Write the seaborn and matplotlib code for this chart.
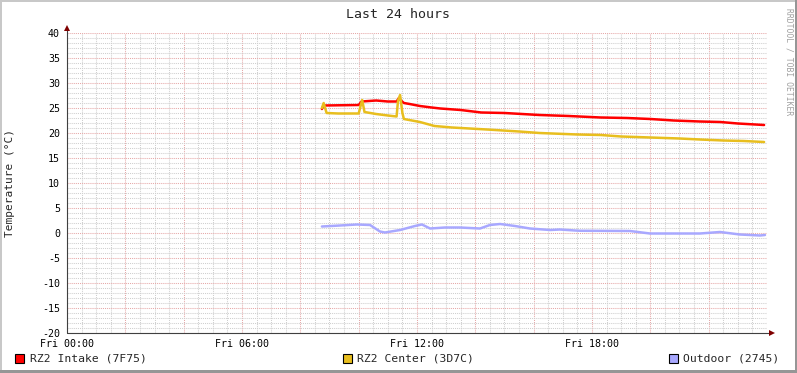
import numpy as np
import pandas as pd
import matplotlib
matplotlib.use("Agg")
import matplotlib.pyplot as plt
import seaborn as sns
from matplotlib.ticker import MultipleLocator, FuncFormatter
from matplotlib.patches import Rectangle
from matplotlib.lines import Line2D

# ---- data (hours since Fri 00:00, temperature in °C) ----
intake_hours = [8.74, 8.8, 10.0, 10.1, 10.6, 11.0, 11.3, 11.38, 11.45, 11.55, 11.75, 12.1,
                12.5, 12.8, 13.5, 14.2, 15.0, 16.2, 17.2, 18.3, 19.2, 20.0, 20.8, 21.7,
                22.4, 23.0, 23.9]
intake_temp = [24.8, 25.5, 25.6, 26.3, 26.5, 26.3, 26.3, 27.0, 26.5, 26.0, 25.8, 25.4,
               25.1, 24.9, 24.6, 24.1, 24.0, 23.6, 23.4, 23.1, 23.0, 22.8, 22.5, 22.3,
               22.2, 21.9, 21.6]

center_hours = [8.74, 8.8, 8.9, 9.3, 10.0, 10.07, 10.12, 10.2, 10.6, 11.0, 11.3, 11.35,
                11.42, 11.5, 11.55, 12.1, 12.6, 13.2, 13.8, 14.4, 15.5, 16.2, 17.5, 18.3,
                19.0, 20.0, 21.0, 21.7, 22.5, 23.2, 23.9]
center_temp = [25.0, 26.0, 24.0, 23.9, 23.9, 25.5, 26.6, 24.2, 23.8, 23.5, 23.3, 26.5,
               27.6, 24.0, 22.8, 22.2, 21.4, 21.1, 20.9, 20.7, 20.3, 20.0, 19.7, 19.6,
               19.3, 19.1, 18.9, 18.7, 18.5, 18.4, 18.2]

outdoor_hours = [8.74, 9.36, 9.94, 10.39, 10.73, 10.9, 11.42, 11.93, 12.17, 12.45, 12.96,
                 13.47, 14.16, 14.5, 14.85, 15.36, 15.87, 16.56, 16.9, 17.42, 17.59, 19.3,
                 19.99, 21.7, 22.39, 23.07, 23.76, 23.93]
outdoor_temp = [1.3, 1.5, 1.7, 1.6, 0.3, 0.1, 0.6, 1.4, 1.7, 0.9, 1.1, 1.1, 0.9, 1.6, 1.8,
                1.4, 0.9, 0.6, 0.7, 0.5, 0.45, 0.4, -0.1, -0.1, 0.2, -0.3, -0.5, -0.4]

series_names = ["RZ2 Intake (7F75)", "RZ2 Center (3D7C)", "Outdoor (2745)"]
series_colors = ["#FF0000", "#E8BE1E", "#A8A8FF"]
x_tick_labels = ["Fri 00:00", "Fri 06:00", "Fri 12:00", "Fri 18:00"]
title = "Last 24 hours"
ylabel = "Temperature (°C)"

df = pd.concat([
    pd.DataFrame({"hour": intake_hours, "temp": intake_temp, "series": series_names[0]}),
    pd.DataFrame({"hour": center_hours, "temp": center_temp, "series": series_names[1]}),
    pd.DataFrame({"hour": outdoor_hours, "temp": outdoor_temp, "series": series_names[2]}),
])

sns.set_theme(style="white")
plt.rcParams["font.family"] = ["DejaVu Sans Mono"]

W, H = 797, 373
fig = plt.figure(figsize=(W / 100, H / 100), dpi=100)
fig.patch.set_facecolor("white")

def px_rect(x0, y0, w, h, color):
    fig.add_artist(Rectangle((x0 / W, 1 - (y0 + h) / H), w / W, h / H,
                             transform=fig.transFigure, color=color, lw=0, zorder=10))
px_rect(0, 0, W, 2, "#C8C8C8")
px_rect(0, 0, 2, H, "#C8C8C8")
px_rect(0, H - 3, W, 3, "#969696")
px_rect(W - 2, 0, 2, H, "#969696")

L, R, T, B = 67, 767, 33, 333
ax = fig.add_axes([L / W, 1 - B / H, (R - L) / W, (B - T) / H])
ax.set_facecolor("white")

sns.lineplot(data=df, x="hour", y="temp", hue="series", hue_order=series_names,
             palette=dict(zip(series_names, series_colors)), legend=False,
             linewidth=1.8, ax=ax, sort=False, zorder=5)

ax.set_xlim(0, 24)
ax.set_ylim(-20, 40)
ax.set_xlabel("")
ax.set_ylabel("")

ax.xaxis.set_major_locator(MultipleLocator(2))
ax.xaxis.set_minor_locator(MultipleLocator(0.5))
ax.yaxis.set_major_locator(MultipleLocator(5))
ax.yaxis.set_minor_locator(MultipleLocator(1))

def xfmt(v, pos):
    i = int(round(v))
    if i % 6 == 0 and 0 <= i // 6 < len(x_tick_labels):
        return x_tick_labels[i // 6]
    return ""
ax.xaxis.set_major_formatter(FuncFormatter(xfmt))
ax.yaxis.set_major_formatter(FuncFormatter(lambda v, p: f"{int(round(v))}"))

dot = (0, (1, 1))
ax.grid(which="minor", color="#CFCFCF", linestyle=dot, linewidth=0.75)
ax.grid(which="major", color="#E6A8A8", linestyle=dot, linewidth=0.75)
ax.set_axisbelow(True)

for s in ax.spines.values():
    s.set_visible(False)

ax.tick_params(axis="both", which="both", labelsize=7.2, colors="#000000")
ax.tick_params(axis="x", which="major", length=4, direction="inout", color="#E07070", pad=2)
ax.tick_params(axis="x", which="minor", length=3, direction="inout", color="#AAAAAA")
ax.tick_params(axis="y", which="major", length=4, direction="inout", color="#E07070", pad=3)
ax.tick_params(axis="y", which="minor", length=3, direction="inout", color="#AAAAAA")

# axis lines with arrows
axis_col = "#404040"
ax.add_line(Line2D([0, 0], [0, 1 + 4 / 300], transform=ax.transAxes, color=axis_col,
                   lw=0.8, clip_on=False, zorder=6))
ax.add_line(Line2D([0, 1 + 4 / 700], [0, 0], transform=ax.transAxes, color=axis_col,
                   lw=0.8, clip_on=False, zorder=6))
ax.plot([0], [1 + 5 / 300], marker="^", ms=5, color="#7F0000", transform=ax.transAxes,
        clip_on=False, zorder=7, markeredgewidth=0)
ax.plot([1 + 5 / 700], [0], marker=">", ms=5, color="#7F0000", transform=ax.transAxes,
        clip_on=False, zorder=7, markeredgewidth=0)

# texts
fig.text(398 / W, 1 - 14 / H, title, ha="center", va="center", fontsize=9.5)
fig.text(10 / W, 1 - 183 / H, ylabel, ha="center", va="center", rotation=90, fontsize=8)
fig.text(789 / W, 1 - 8 / H, "RRDTOOL / TOBI OETIKER", ha="center", va="top",
         rotation=270, fontsize=5.8, color="#A0A0A0")

# legend
leg_x_box = [15, 343, 669]
leg_x_txt = [30, 357, 683]
for name, col, bx, tx in zip(series_names, series_colors, leg_x_box, leg_x_txt):
    fig.add_artist(Rectangle((bx / W, 1 - 363 / H), 9 / W, 9 / H, transform=fig.transFigure,
                             facecolor=col, edgecolor="black", lw=0.8))
    fig.text(tx / W, 1 - 358.5 / H, name, ha="left", va="center", fontsize=8.2)

fig.savefig("out.png", dpi=100, facecolor="white")
